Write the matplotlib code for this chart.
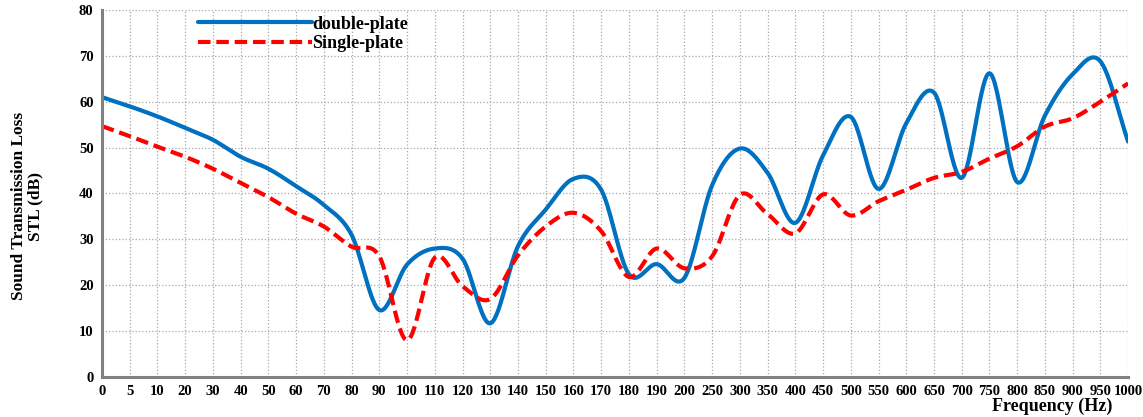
import numpy as np
import matplotlib
matplotlib.use('Agg')
import matplotlib.pyplot as plt

# frequency categories (Hz) - evenly spaced on the axis
freq_labels = ['0', '5', '10', '20', '30', '40', '50', '60', '70', '80', '90', '100',
               '110', '120', '130', '140', '150', '160', '170', '180', '190', '200',
               '250', '300', '350', '400', '450', '500', '550', '600', '650', '700',
               '750', '800', '850', '900', '950', '1000']

double_plate = [61, 59, 56.8, 54.3, 51.7, 48, 45.4, 41.6, 37.5, 31, 14.6, 24.5,
                28, 25.8, 11.7, 28.5, 36.5, 43.2, 40.8, 22.4, 24.6, 21.6,
                41.8, 49.8, 44.5, 33.6, 48.3, 56.7, 41, 55.3, 62, 43.4,
                66.2, 42.5, 57, 66, 68.8, 51.3]

single_plate = [54.7, 52.5, 50.2, 48, 45.4, 42.3, 39.2, 35.6, 32.8, 28.4, 26.3, 8,
                26, 19.8, 17, 26.5, 32.8, 35.8, 31.8, 21.8, 28, 23.7,
                26.3, 39.7, 35.5, 31.3, 39.8, 35.2, 38.3, 40.8, 43.4, 44.7,
                47.6, 50.3, 54.6, 56.4, 60, 64]


def smooth(y, n=30):
    # catmull-rom through the points, like Excel's smoothed line
    y = np.asarray(y, dtype=float)
    p = np.concatenate([[2 * y[0] - y[1]], y, [2 * y[-1] - y[-2]]])
    xs, ys = [], []
    t = np.linspace(0, 1, n, endpoint=False)
    for i in range(len(y) - 1):
        p0, p1, p2, p3 = p[i], p[i + 1], p[i + 2], p[i + 3]
        seg = 0.5 * ((2 * p1) + (-p0 + p2) * t + (2 * p0 - 5 * p1 + 4 * p2 - p3) * t ** 2
                     + (-p0 + 3 * p1 - 3 * p2 + p3) * t ** 3)
        xs.append(i + t)
        ys.append(seg)
    xs.append([len(y) - 1])
    ys.append([y[-1]])
    return np.concatenate(xs), np.concatenate(ys)


plt.rcParams['font.family'] = ['Liberation Serif', 'DejaVu Serif']
plt.rcParams['font.weight'] = 'bold'

fig = plt.figure(figsize=(11.43, 4.17), dpi=100)
ax = fig.add_axes([0.0892, 0.096, 0.8978, 0.880])

x = np.arange(len(freq_labels))
xs, ys = smooth(double_plate)
ax.plot(xs, ys, color='#0070C0', lw=3, label='double-plate', solid_capstyle='round')
xs, ys = smooth(single_plate)
ax.plot(xs, ys, color='#FF0000', lw=3, ls=(0, (3, 1.4)), label='Single-plate')

ax.set_xlim(0, len(freq_labels) - 1)
ax.set_ylim(0, 80)
ax.set_xticks(x)
ax.set_xticklabels(freq_labels)
ax.set_yticks(range(0, 81, 10))
ax.tick_params(length=0, labelsize=10.5, pad=6)
for lab in ax.get_xticklabels() + ax.get_yticklabels():
    lab.set_fontweight('bold')

ax.grid(True, color='#a8a8a8', ls=':', lw=0.9)
ax.set_axisbelow(True)
for s in ['top', 'right']:
    ax.spines[s].set_visible(False)
for s in ['left', 'bottom']:
    ax.spines[s].set_color('#808080')
    ax.spines[s].set_linewidth(2.2)

fig.text(0.024, 0.505, 'Sound Transmission Loss\nSTL (dB)', fontsize=12.5, fontweight='bold',
         rotation=90, ha='center', va='center', multialignment='center', linespacing=1.0)
fig.text(0.973, 0.005, 'Frequency (Hz)', fontsize=13, fontweight='bold', ha='right', va='bottom')

leg = ax.legend(loc='upper left', bbox_to_anchor=(0.087, 1.004), frameon=False,
                handlelength=6.3, handletextpad=0, fontsize=13, labelspacing=0.15,
                borderaxespad=0)
for t in leg.get_texts():
    t.set_fontweight('bold')

fig.savefig('out.png', dpi=100)
